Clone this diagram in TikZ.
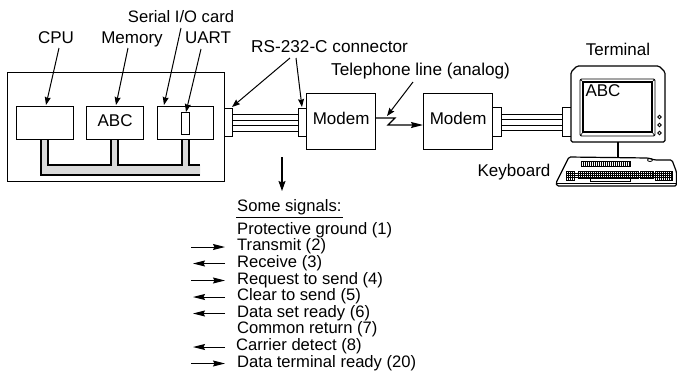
\documentclass[tikz,border=0pt]{standalone}
\usepackage{fontspec}
\setmainfont{Liberation Sans}
\usetikzlibrary{arrows.meta}
\tikzset{
  boxn/.style={draw,line width=1.2pt,inner sep=0pt,anchor=north west,fill=white},
  lab/.style={inner sep=0pt,font=\fontsize{17}{19}\selectfont,text height=12pt,text depth=3.5pt},
  rowt/.style={lab,anchor=west,font=\fontsize{16.6}{19}\selectfont},
  arr/.style={line width=1pt,-{Stealth[length=8pt,width=6pt,inset=1pt]}},
  sig/.style={line width=1pt,-{Stealth[length=12pt,width=6pt,inset=1.5pt]}},
  wire/.style={line width=1.2pt},
  kb/.style={line width=.8pt}
}
\begin{document}
\begin{tikzpicture}[x=1pt,y=-1pt]
\useasboundingbox (0,0) rectangle (677,373);
% computer
\node[boxn,minimum width=217pt,minimum height=109pt] (pc) at (7,72) {};
% bus
\fill[gray!30] (41,139)--(48,139)--(48,165)--(111,165)--(111,139)--(118,139)--(118,165)--(182,165)--(182,139)--(189,139)--(189,165)--(200,165)--(200,175)--(41,175)--cycle;
\draw[line width=1.1pt] (200,175)--(41,175)--(41,139) (48,139)--(48,165)--(111,165)--(111,139) (118,139)--(118,165)--(182,165)--(182,139) (189,139)--(189,165)--(200,165);
\node[boxn,minimum width=57pt,minimum height=33pt] (cpu) at (16,106) {};
\node[boxn,minimum width=57pt,minimum height=33pt] (mem) at (86,106) {};
\node[lab] at ([yshift=1pt]mem.center) {ABC};
\node[boxn,minimum width=56pt,minimum height=33pt] (card) at (157,106) {};
\node[boxn,minimum width=8pt,minimum height=22pt] (uart) at (181,112) {};
% connectors
\node[boxn,minimum width=8pt,minimum height=28pt] (c1) at (224,108) {};
\node[boxn,minimum width=8pt,minimum height=28pt] (c2) at (298,108) {};
\node[boxn,minimum width=69pt,minimum height=56pt] (m1) at (306,93) {};
\node[boxn,minimum width=69pt,minimum height=56pt] (m2) at (423,93) {};
\node[boxn,minimum width=9pt,minimum height=29pt] (c3) at (492,107) {};
\node[boxn,minimum width=9pt,minimum height=29pt] (c4) at (562,107) {};
\node[lab] at ([yshift=1pt]m1.center) {Modem};
\node[lab] at ([yshift=1pt]m2.center) {Modem};
\foreach \yy in {-8.5,-3,2.5,8}{
  \draw[wire] ([yshift=\yy pt]c1.east) -- ([yshift=\yy pt]c2.west);
  \draw[wire] ([yshift=\yy pt]c3.east) -- ([yshift=\yy pt]c4.west);
}
% labels
\node[lab] (lcpu) at (56,39.5) {CPU};
\node[lab] (lmem) at (132,39.5) {Memory};
\node[lab] (luart) at (208,39.5) {UART};
\node[lab,font=\fontsize{16.6}{19}\selectfont] (lcard) at (181,18.5) {Serial I/O card};
\node[lab,anchor=west,font=\fontsize{17.2}{19}\selectfont] (lrs) at (251,48) {RS-232-C connector};
\node[lab,anchor=west,font=\fontsize{17.2}{19}\selectfont] (ltel) at (331,71.5) {Telephone line (analog)};
\node[lab] (lterm) at (618,51.5) {Terminal};
\node[lab] (lkey) at (514,172) {Keyboard};
\coordinate (ecard) at (164,105);
\coordinate (euart) at (186,112);
\coordinate (ers1) at (232,107);
\coordinate (ers2) at (302,107);
\coordinate (srs1) at (290,58);
\coordinate (srs2) at (296,58);
\coordinate (scard) at (181,28);
\coordinate (suart) at (201,49);
\coordinate (scpu) at (59,48);
\coordinate (smem) at (128,48);
\draw[arr] (scpu) -- (46,105);
\draw[arr] (smem) -- (116,105);
\draw[arr] (scard) -- (ecard);
\draw[arr] (suart) -- (euart);
\draw[arr] (srs1) -- (ers1);
\draw[arr] (srs2) -- (ers2);
% telephone line
\coordinate (stel) at (413,82);
\coordinate (etel) at (387,116);
\draw[arr] (stel) -- (etel);
\draw[line width=1.2pt,-{Stealth[length=12pt,width=6pt,inset=1.5pt]}] (m1.east|-0,118) -- (395,118) -- (388,125) -- (m2.west|-0,125);
% terminal
\draw[line width=1.2pt,fill=white,rounded corners=1.5pt] (577,66)--(659,66)--(665,72)--(665,142)--(571,142)--(571,72)--cycle;
\draw[line width=.9pt,rounded corners=1.5pt] (580,79) rectangle (655,136);
\draw[line width=1.2pt] (583,82) rectangle (652,132);
\draw[line width=.6pt] (580,79)--(583,82) (655,79)--(652,82) (580,136)--(583,132) (655,136)--(652,132);
\node[lab] (abc) at (603,92) {ABC};
\foreach \yy in {117,125,133} \draw[line width=.8pt] (659.5,\yy) circle (1.7pt);
\coordinate (stema) at (618,142);
\coordinate (stemb) at (618,157);
\draw[line width=1.2pt] (stema) -- (stemb);
% keyboard
\draw[line width=1.2pt,fill=white,rounded corners=1.5pt] (569,157)--(648,158)--(655,160)--(672,160)--(676.5,172)--(676.5,186)--(557,186)--(556,183)--cycle;
\draw[kb] (557,183)--(676,183);
\draw[kb] (650,160) ellipse (2.5pt and 1.5pt);
\draw[kb] (581,161) rectangle (630,166);
\foreach \xx in {583,585,...,630} \draw[kb] (\xx,161)--(\xx,166);
\draw[kb] (566,171) rectangle (574,180) (578,171) rectangle (638,178) (590,178) rectangle (630,181.5) (640,171) rectangle (653,178) (655,171) rectangle (672,180);
\foreach \xx in {568,570,...,574} \draw[kb] (\xx,171)--(\xx,180);
\foreach \xx in {580,582,...,638} \draw[kb] (\xx,171)--(\xx,178);
\foreach \xx in {642,644,...,652} \draw[kb] (\xx,171)--(\xx,178);
\foreach \xx in {657,659,...,672} \draw[kb] (\xx,171)--(\xx,180);
\foreach \yy in {173,175,177} \draw[line width=.6pt] (566,\yy)--(672,\yy);
% signals
\coordinate (sdown) at (282,157);
\coordinate (edown) at (282,191);
\draw[line width=1.2pt,-{Stealth[length=10pt,width=7pt,inset=1.5pt]}] (sdown) -- (edown);
\node[rowt] (h) at (237,207) {Some signals:};
\coordinate (ula) at (236,217.5);
\coordinate (ulb) at (343,217.5);
\draw[line width=1pt] (ula) -- (ulb);
\node[rowt] (r1) at (237,230) {Protective ground (1)};
\node[rowt] (r2) at (237,246.5) {Transmit (2)};
\node[rowt] (r3) at (237,263) {Receive (3)};
\node[rowt] (r4) at (237,280) {Request to send (4)};
\node[rowt] (r5) at (237,296.5) {Clear to send (5)};
\node[rowt] (r6) at (237,313) {Data set ready (6)};
\node[rowt] (r7) at (237,329.5) {Common return (7)};
\node[rowt] (r8) at (236,346.5) {Carrier detect (8)};
\node[rowt] (r9) at (237,363) {Data terminal ready (20)};
\foreach \r in {r2,r4,r9}
  \draw[sig,shorten >=12pt] ([xshift=-46pt,yshift=-.5pt]\r.west) -- ([yshift=-.5pt]\r.west);
\foreach \r in {r3,r5,r6}
  \draw[sig,shorten <=12pt] ([yshift=-.5pt]\r.west) -- ([xshift=-44pt,yshift=-.5pt]\r.west);
\draw[sig,shorten <=11pt] ([yshift=-.5pt]r8.west) -- ([xshift=-43pt,yshift=-.5pt]r8.west);
\end{tikzpicture}
\end{document}
